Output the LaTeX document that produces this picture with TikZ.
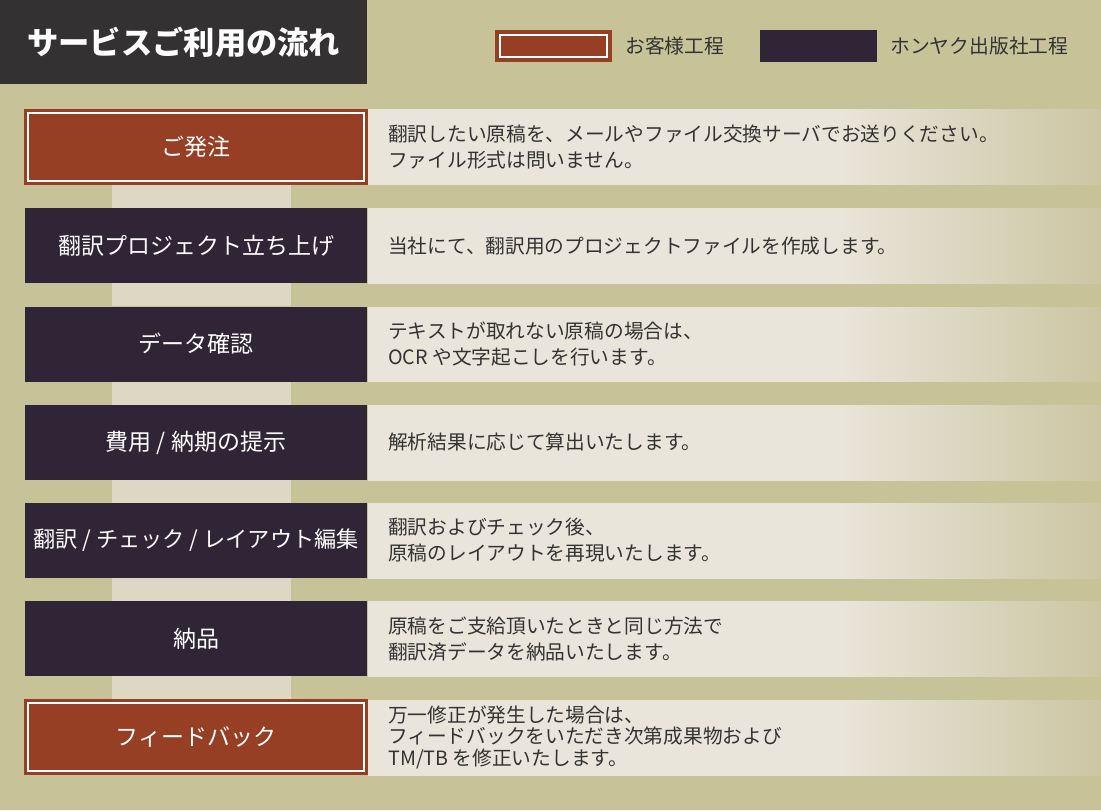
\documentclass[tikz,border=0pt]{standalone}
\usepackage{fontspec}
\setmainfont{Noto Sans CJK JP}
\usetikzlibrary{calc}
\definecolor{bgk}{HTML}{C8C298}
\definecolor{titlebg}{HTML}{333132}
\definecolor{custc}{HTML}{963F24}
\definecolor{ownc}{HTML}{2F2537}
\definecolor{panelc}{HTML}{E9E5DA}
\definecolor{panelend}{HTML}{CCC6A3}
\definecolor{stripc}{HTML}{DDD8C4}
\definecolor{txtc}{HTML}{333333}
\pgfdeclarehorizontalshading{panelshade}{100bp}{color(0bp)=(panelc); color(57bp)=(panelc); color(75bp)=(panelend); color(100bp)=(panelend)}
\tikzset{
  titlebox/.style={fill=titlebg, text=white, minimum width=367, minimum height=84, inner sep=0pt, font=\fontsize{31.3}{34}\selectfont\bfseries},
  custbox/.style={fill=custc, text=white, minimum width=344, minimum height=76, inner sep=0pt, font=\fontsize{23}{27}\selectfont},
  ownbox/.style={fill=ownc, text=white, minimum width=342, minimum height=75, inner sep=0pt, font=\fontsize{23}{27}\selectfont},
  inner/.style={draw=white, line width=1.6},
  desc/.style={anchor=west, text=txtc, align=left, inner sep=0pt, font=\fontsize{19.7}{26.5}\selectfont},
  desctight/.style={desc, font=\fontsize{19.7}{21.5}\selectfont},
  legtext/.style={anchor=west, text=txtc, inner sep=0pt, font=\fontsize{19.8}{22}\selectfont},
  legcust/.style={fill=custc, minimum width=117, minimum height=32, inner sep=0pt},
  legown/.style={fill=ownc, minimum width=117, minimum height=32, inner sep=0pt},
  strip/.style={fill=stripc},
}
\newcommand{\panel}[2]{%
  \shade[shading=panelshade] (368,#1) rectangle (1101,#2);
}
\begin{document}
\begin{tikzpicture}[x=1pt,y=-1pt]
\useasboundingbox (0,0) rectangle (1101,811);
\fill[bgk] (0,0) rectangle (1101,811);
\fill[white!85!bgk] (0,809.5) rectangle (1101,811);

% title
\node[titlebox, anchor=north west] (title) at (0,0) {サービスご利用の流れ};

% legend
\node[legcust] (lc) at (553.5,46) {};
\draw[inner] ($(lc.north west)+(5,5)$) rectangle ($(lc.south east)+(-5,-5)$);
\node[legtext] (lct) at (625,46) {お客様工程};
\node[legown] (lo) at (818.5,46) {};
\node[legtext] (lot) at (890,46) {ホンヤク出版社工程};

% panels
\panel{109}{184}
\panel{208}{283}
\panel{307}{381}
\panel{405}{480}
\panel{503}{578}
\panel{601}{676}
\panel{700}{775}

% boxes
\node[custbox] (s1) at (196,147) {ご発注};
\node[ownbox] (s2) at (196,245.5) {翻訳プロジェクト立ち上げ};
\node[ownbox] (s3) at (196,344) {データ確認};
\node[ownbox] (s4) at (196,442.5) {費用 / 納期の提示};
\node[ownbox, font=\fontsize{22.2}{26}\selectfont] (s5) at (196,540.5) {翻訳 / チェック / レイアウト編集};
\node[ownbox] (s6) at (196,638.5) {納品};
\node[custbox] (s7) at (196,737) {フィードバック};
\foreach \n in {s1,s7}{
  \draw[inner] ($(\n.north west)+(4,4)$) rectangle ($(\n.south east)+(-4,-4)$);
}

% connector strips
\foreach \a/\b in {s1/s2,s2/s3,s3/s4,s4/s5,s5/s6,s6/s7}{
  \fill[strip] ($(\a.south)+(-84,0)$) rectangle ($(\b.north)+(95,0)$);
}

% descriptions
\node[desc] (d1) at (388,147) {翻訳したい原稿を、メールやファイル交換サーバでお送りください。\\ファイル形式は問いません。};
\node[desc] (d2) at (388,246) {当社にて、翻訳用のプロジェクトファイルを作成します。};
\node[desc] (d3) at (388,344) {テキストが取れない原稿の場合は、\\OCR や文字起こしを行います。};
\node[desc] (d4) at (388,442) {解析結果に応じて算出いたします。};
\node[desc] (d5) at (388,540) {翻訳およびチェック後、\\原稿のレイアウトを再現いたします。};
\node[desc] (d6) at (388,639) {原稿をご支給頂いたときと同じ方法で\\翻訳済データを納品いたします。};
\node[desctight] (d7) at (388,737) {万一修正が発生した場合は、\\フィードバックをいただき次第成果物および\\TM/TB を修正いたします。};
\end{tikzpicture}
\end{document}
